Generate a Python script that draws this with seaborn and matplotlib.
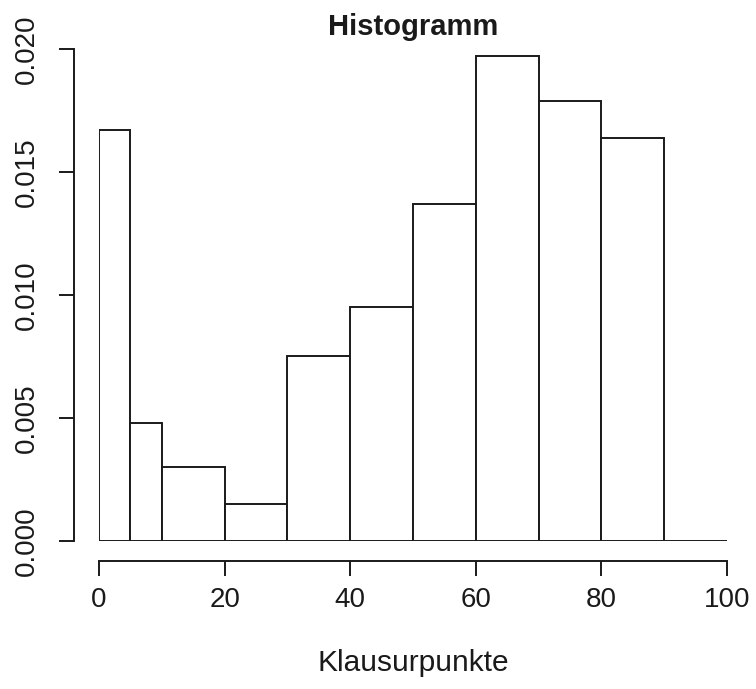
import numpy as np
import pandas as pd
import matplotlib
matplotlib.use("Agg")
import matplotlib.pyplot as plt
import seaborn as sns

# Class edges of the exam-score histogram and the density in each class
bin_edges = [0, 5, 10, 20, 30, 40, 50, 60, 70, 80, 90, 100]
densities = [0.0167, 0.0048, 0.0030, 0.0015, 0.0075, 0.0095,
             0.0137, 0.0197, 0.0179, 0.0164, 0.0]
x_ticks = [0, 20, 40, 60, 80, 100]
y_ticks = [0.000, 0.005, 0.010, 0.015, 0.020]
y_tick_labels = ["0.000", "0.005", "0.010", "0.015", "0.020"]

mids = [(a + b) / 2 for a, b in zip(bin_edges[:-1], bin_edges[1:])]
df = pd.DataFrame({"punkte": mids, "dichte": densities})

sns.set_theme(style="ticks")
plt.rcParams["font.family"] = ["Liberation Sans", "DejaVu Sans"]

W, H, DPI = 756, 689, 100
fig = plt.figure(figsize=(W / DPI, H / DPI), dpi=DPI)
ax = fig.add_axes([99 / W, (H - 541) / H, (727 - 99) / W, (541 - 49) / H])

ink = "#1a1a1a"
lw = 1.4
sns.histplot(data=df, x="punkte", weights="dichte", bins=bin_edges,
             stat="count", fill=True, color="white", edgecolor=ink,
             linewidth=lw, alpha=1, ax=ax)

ax.set_xlim(0, 100)
ax.set_ylim(0, 0.020)
ax.set_xticks(x_ticks)
ax.set_xticklabels([str(t) for t in x_ticks])
ax.set_yticks(y_ticks)
ax.set_yticklabels(y_tick_labels)

for s in ["top", "right"]:
    ax.spines[s].set_visible(False)
ax.spines["left"].set_position(("outward", 25 * 72 / DPI))
ax.spines["bottom"].set_position(("outward", 20 * 72 / DPI))
ax.spines["left"].set_bounds(0, 0.020)
ax.spines["bottom"].set_bounds(0, 100)
for s in ["left", "bottom"]:
    ax.spines[s].set_linewidth(lw)
    ax.spines[s].set_color(ink)

ax.tick_params(axis="both", direction="out", length=10.8, width=lw,
               color=ink, labelsize=20, labelcolor=ink)
ax.tick_params(axis="x", pad=8)
ax.tick_params(axis="y", pad=14, labelrotation=90)
for lab in ax.get_yticklabels():
    lab.set_verticalalignment("center")
    lab.set_horizontalalignment("right")

ax.set_xlabel("Klausurpunkte", fontsize=21.5, color=ink, labelpad=26)
ax.set_ylabel("")
ax.set_title("Histogramm", fontsize=21, fontweight="bold", color=ink, pad=10)
ax.grid(False)

fig.savefig("out.png", dpi=DPI, facecolor="white")
